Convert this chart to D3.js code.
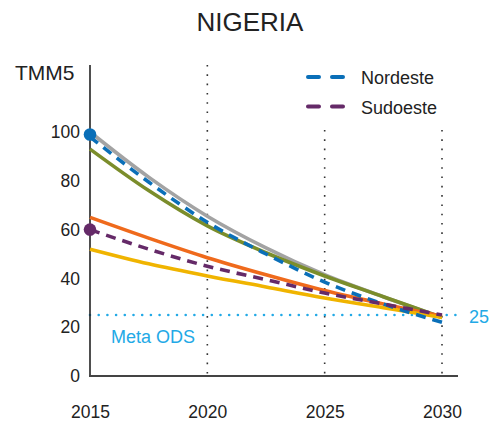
<!DOCTYPE html>
<html>
<head>
<script src="https://d3js.org/d3.v7.min.js"></script>
<style>
body {margin: 0; background: white;}
text {font-family: "Liberation Sans", Arial, sans-serif; fill: #222;}
</style>
</head>
<body>
<svg width="492" height="423"></svg>
<script>
// data
var years = [2015, 2017.5, 2020, 2022.5, 2025, 2027.5, 2030];
var nacional = [100, 81.5, 65.5, 52.5, 41.5, 32.5, 24];
var nordeste = [98, 79.5, 63, 50, 38.5, 29.5, 22];
var norte = [93, 76, 61.5, 50.5, 41, 32.5, 24];
var otra1 = [65, 56.5, 48.5, 41.5, 35, 29.5, 24.5];
var sudoeste = [60, 52, 45, 39.5, 34, 29.5, 25];
var otra2 = [52, 46, 41, 36.5, 32, 28, 24];
var yTicks = [0, 20, 40, 60, 80, 100];
var xTicks = [2015, 2020, 2025, 2030];
var meta = 25;
var startDots = [{v: 99, c: "#0a6fb8"}, {v: 60, c: "#652a68"}];

var svg = d3.select("svg");
var x = d3.scaleLinear().domain([2015, 2030]).range([90, 442]);
var y = d3.scaleLinear().domain([0, 100]).range([376, 132]);

// title
svg.append("text").attr("x", 250).attr("y", 31)
  .attr("text-anchor", "middle").style("font-size", "26px").text("NIGERIA");

// y axis title
svg.append("text").attr("x", 15).attr("y", 80)
  .style("font-size", "21px").text("TMM5");

// vertical dotted grid
svg.selectAll("line.vgrid").data(xTicks.slice(1)).enter().append("line")
  .attr("class", "vgrid")
  .attr("x1", function(d) { return x(d); }).attr("x2", function(d) { return x(d); })
  .attr("y1", function(d) { return d == 2020 ? 65 : 130; }).attr("y2", 376)
  .attr("stroke", "#333").attr("stroke-width", 1.6)
  .attr("stroke-dasharray", "1.6,7.7");

// meta ODS line
svg.append("line").attr("x1", 90).attr("x2", 458)
  .attr("y1", y(meta)).attr("y2", y(meta))
  .attr("stroke", "#22a9e6").attr("stroke-width", 2.6)
  .attr("stroke-linecap", "round").attr("stroke-dasharray", "0,8.7");
svg.append("text").attr("x", 111).attr("y", 343)
  .style("font-size", "18px").style("fill", "#22a9e6").text("Meta ODS");
svg.append("text").attr("x", 469).attr("y", 323)
  .style("font-size", "18px").style("fill", "#22a9e6").text(meta);

// axes
svg.append("line").attr("x1", 90).attr("x2", 90).attr("y1", 65).attr("y2", 377)
  .attr("stroke", "#222").attr("stroke-width", 1.6);
svg.append("line").attr("x1", 89).attr("x2", 458).attr("y1", 376).attr("y2", 376)
  .attr("stroke", "#444").attr("stroke-width", 2);

var yAxis = svg.append("g").attr("transform", "translate(90,0)")
  .call(d3.axisLeft(y).tickValues(yTicks).tickSize(0).tickPadding(10));
yAxis.select(".domain").remove();
yAxis.selectAll("text").style("font-size", "17.5px").style("font-family", "Liberation Sans, Arial, sans-serif").attr("fill", "#222");

var xAxis = svg.append("g").attr("transform", "translate(0,376)")
  .call(d3.axisBottom(x).tickValues(xTicks).tickFormat(d3.format("d")).tickSize(0).tickPadding(30));
xAxis.select(".domain").remove();
xAxis.selectAll("text").style("font-size", "17.5px").style("font-family", "Liberation Sans, Arial, sans-serif").attr("fill", "#222");

// series
var line = d3.line()
  .x(function(d, i) { return x(years[i]); })
  .y(function(d) { return y(d); })
  .curve(d3.curveMonotoneX);

var series = [
  {v: nacional, c: "#a3a3a3", dash: null},
  {v: norte, c: "#7b8d2b", dash: null},
  {v: otra1, c: "#ef6a1c", dash: null},
  {v: otra2, c: "#f0b400", dash: null},
  {v: nordeste, c: "#0a6fb8", dash: "10,7"},
  {v: sudoeste, c: "#652a68", dash: "10,7"}
];
svg.selectAll("path.serie").data(series).enter().append("path")
  .attr("class", "serie")
  .attr("d", function(d) { return line(d.v); })
  .attr("fill", "none")
  .attr("stroke", function(d) { return d.c; })
  .attr("stroke-width", 3.6)
  .attr("stroke-dasharray", function(d) { return d.dash; });

svg.selectAll("circle").data(startDots).enter().append("circle")
  .attr("cx", x(2015)).attr("cy", function(d) { return y(d.v); })
  .attr("r", 6.3).attr("fill", function(d) { return d.c; });

// legend
var legend = [{name: "Nordeste", c: "#0a6fb8"}, {name: "Sudoeste", c: "#652a68"}];
var lg = svg.selectAll("g.legend").data(legend).enter().append("g")
  .attr("class", "legend")
  .attr("transform", function(d, i) { return "translate(0," + (77 + i * 29.5) + ")"; });
lg.append("line").attr("x1", 308).attr("x2", 346).attr("y1", 0).attr("y2", 0)
  .attr("stroke", function(d) { return d.c; }).attr("stroke-width", 4)
  .attr("stroke-linecap", "round").attr("stroke-dasharray", "11,13");
lg.append("text").attr("x", 361).attr("y", 7)
  .style("font-size", "18px").text(function(d) { return d.name; });
</script>
</body>
</html>
